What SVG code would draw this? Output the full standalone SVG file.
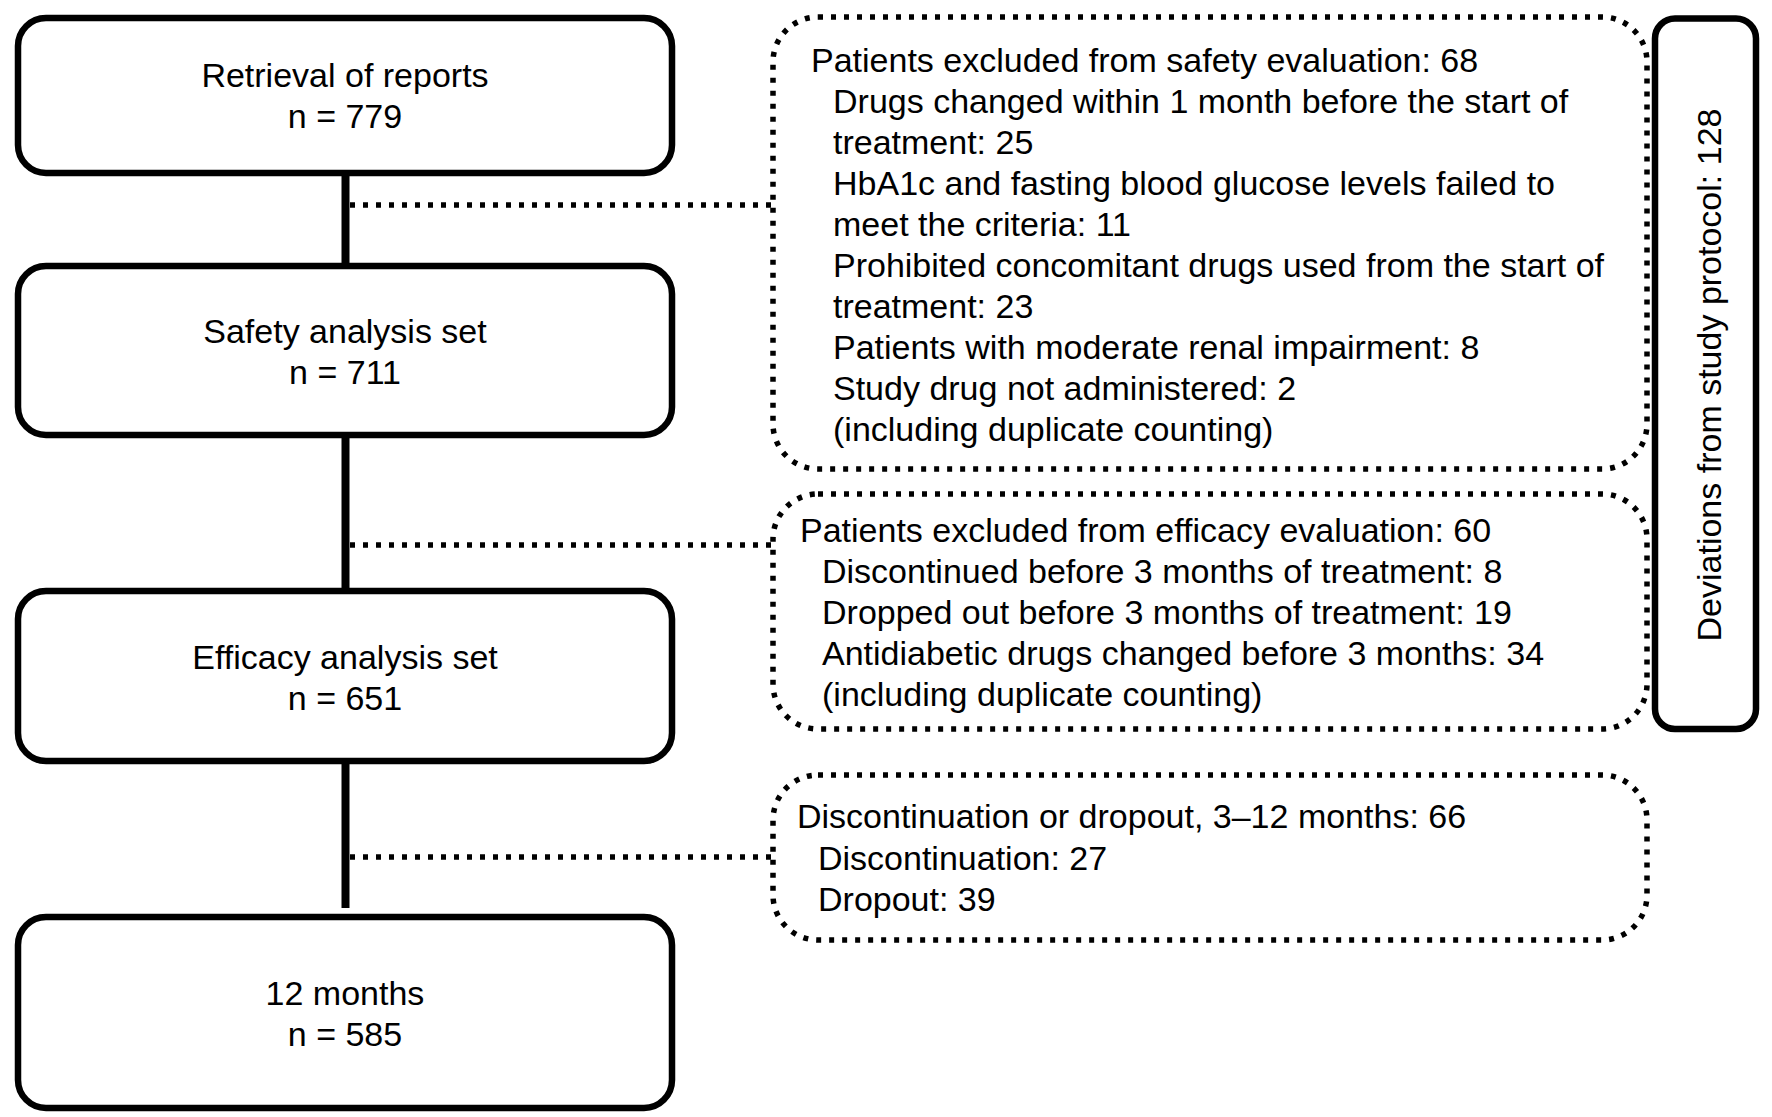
<svg xmlns="http://www.w3.org/2000/svg" width="1772" height="1117" viewBox="0 0 1772 1117">
  <style>
    text { font-family: "Liberation Sans", Arial, Helvetica, sans-serif; font-size: 34px; fill: #000; }
    .c { text-anchor: middle; }
    .box { fill: #fff; stroke: #000; stroke-width: 6.5; }
    .dbox { fill: #fff; stroke: #000; stroke-width: 5.5; stroke-dasharray: 5 8; }
    .vline { stroke: #000; stroke-width: 8; fill: none; }
    .dline { stroke: #000; stroke-width: 5.5; stroke-dasharray: 5 8; fill: none; }
  </style>
  <rect width="1772" height="1117" fill="#fff"/>
  <g id="connectors">
    <line class="vline" x1="345.5" y1="173" x2="345.5" y2="266"/>
    <line class="vline" x1="345.5" y1="435" x2="345.5" y2="591"/>
    <line class="vline" x1="345.5" y1="761" x2="345.5" y2="908"/>
    <line class="dline" x1="350" y1="205" x2="772" y2="205"/>
    <line class="dline" x1="350" y1="545" x2="772" y2="545"/>
    <line class="dline" x1="350" y1="857" x2="772" y2="857"/>
  </g>
  <g id="retrieval">
    <rect class="box" x="18" y="18" width="654" height="155" rx="28"/>
    <text class="c" x="345" y="87">Retrieval of reports</text>
    <text class="c" x="345" y="128">n = 779</text>
  </g>
  <g id="safety">
    <rect class="box" x="18" y="266" width="654" height="169" rx="28"/>
    <text class="c" x="345" y="343">Safety analysis set</text>
    <text class="c" x="345" y="384">n = 711</text>
  </g>
  <g id="efficacy">
    <rect class="box" x="18" y="591" width="654" height="170" rx="28"/>
    <text class="c" x="345" y="669">Efficacy analysis set</text>
    <text class="c" x="345" y="710">n = 651</text>
  </g>
  <g id="months12">
    <rect class="box" x="18" y="917" width="654" height="191" rx="28"/>
    <text class="c" x="345" y="1005">12 months</text>
    <text class="c" x="345" y="1046">n = 585</text>
  </g>
  <g id="excl-safety">
    <rect class="dbox" x="773" y="17" width="874" height="452" rx="45"/>
    <text x="811" y="72">Patients excluded from safety evaluation: 68</text>
    <text x="833" y="113">Drugs changed within 1 month before the start of</text>
    <text x="833" y="154">treatment: 25</text>
    <text x="833" y="195">HbA1c and fasting blood glucose levels failed to</text>
    <text x="833" y="236">meet the criteria: 11</text>
    <text x="833" y="277">Prohibited concomitant drugs used from the start of</text>
    <text x="833" y="318">treatment: 23</text>
    <text x="833" y="359">Patients with moderate renal impairment: 8</text>
    <text x="833" y="400">Study drug not administered: 2</text>
    <text x="833" y="441">(including duplicate counting)</text>
  </g>
  <g id="excl-efficacy">
    <rect class="dbox" x="773" y="494" width="874" height="235" rx="45"/>
    <text x="800" y="542">Patients excluded from efficacy evaluation: 60</text>
    <text x="822" y="583">Discontinued before 3 months of treatment: 8</text>
    <text x="822" y="624">Dropped out before 3 months of treatment: 19</text>
    <text x="822" y="665">Antidiabetic drugs changed before 3 months: 34</text>
    <text x="822" y="706">(including duplicate counting)</text>
  </g>
  <g id="dropout">
    <rect class="dbox" x="773" y="775" width="874" height="165" rx="45"/>
    <text x="797" y="828">Discontinuation or dropout, 3–12 months: 66</text>
    <text x="818" y="870">Discontinuation: 27</text>
    <text x="818" y="911">Dropout: 39</text>
  </g>
  <g id="deviations">
    <rect class="box" x="1655" y="18.5" width="101" height="710.5" rx="20"/>
    <text class="c" transform="translate(1721,375) rotate(-90)" x="0" y="0">Deviations from study protocol: 128</text>
  </g>
</svg>
